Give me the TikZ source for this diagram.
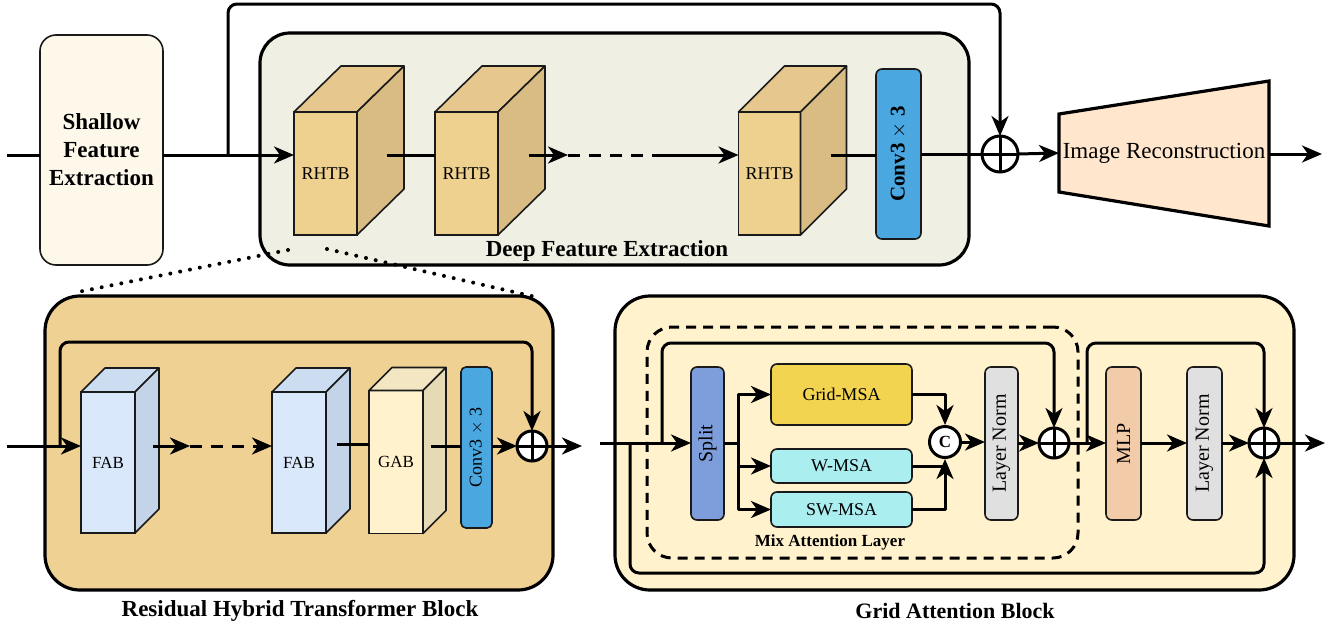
\documentclass[tikz,border=0pt]{standalone}
\usepackage{fontspec}
\setmainfont{Liberation Serif}
\usetikzlibrary{arrows.meta,calc}

% three visible faces of a block: front face is the node #1,
% top and side faces are added with depth (#2,#3)
\newcommand\cubefaces[5]{%
  \draw[cubeedge,fill=#4] (#1.north west) -- ($(#1.north west)+(#2,-#3)$)
        -- ($(#1.north east)+(#2,-#3)$) -- (#1.north east) -- cycle;
  \draw[cubeedge,fill=#5] (#1.north east) -- ($(#1.north east)+(#2,-#3)$)
        -- ($(#1.south east)+(#2,-#3)$) -- (#1.south east) -- cycle;
}

\definecolor{shallowfill}{HTML}{FEF8EA}
\definecolor{deepfill}{HTML}{F0EFE3}
\definecolor{rhtbfront}{HTML}{EFD18F}
\definecolor{rhtbtop}{HTML}{E6C88E}
\definecolor{rhtbside}{HTML}{D8BC84}
\definecolor{convblue}{HTML}{4AA7E0}
\definecolor{recfill}{HTML}{FFE6CC}
\definecolor{rhtbblock}{HTML}{F0D194}
\definecolor{fabfront}{HTML}{DAE8FC}
\definecolor{fabtop}{HTML}{CCDDF2}
\definecolor{fabside}{HTML}{C3D3E8}
\definecolor{gabfront}{HTML}{FFF2CC}
\definecolor{gabtop}{HTML}{F2E6C3}
\definecolor{gabside}{HTML}{E6D9B5}
\definecolor{gridblock}{HTML}{FFF2CC}
\definecolor{splitfill}{HTML}{7E9DDB}
\definecolor{gridmsa}{HTML}{F2D450}
\definecolor{wmsa}{HTML}{AAEEF0}
\definecolor{mlpfill}{HTML}{F2CBA8}
\definecolor{lnfill}{HTML}{E0E0E0}
\definecolor{edge}{HTML}{1A1A1A}

\tikzset{
  conn/.style={line width=3pt, line join=round},
  arr/.style={conn, -{Stealth[length=20pt,width=17pt,inset=6pt]}},
  dashseg/.style={conn, dash pattern=on 12pt off 9pt},
  cubeedge/.style={draw=edge, line width=1.6pt, line join=round},
  cubefront/.style={draw=edge, line width=1.6pt, rectangle, inner sep=0pt,
                    outer sep=0pt},
  flowbox/.style={draw=edge, line width=1.6pt, rectangle, rounded corners=6pt,
                  inner sep=0pt, outer sep=0pt},
  blockbg/.style={draw=black, line width=3.2pt, rectangle, inner sep=0pt,
                  outer sep=0pt},
  oplus/.style={circle, draw=black, fill=white, line width=3pt,
                inner sep=0pt, outer sep=0pt, minimum size=#1,
                path picture={\draw[line width=3pt]
                  (path picture bounding box.north) -- (path picture bounding box.south)
                  (path picture bounding box.west) -- (path picture bounding box.east);}},
  title/.style={font=\fontsize{23}{28}\selectfont\bfseries},
  dotguide/.style={line width=4pt, line cap=round, dash pattern=on 0pt off 10pt},
}

\begin{document}
\begin{tikzpicture}[x=1pt,y=-1pt]
\useasboundingbox (0,0) rectangle (1330,627);
\fill[white] (0,0) rectangle (1330,627);

% ---------------- top row ----------------
\node[blockbg, fill=deepfill, rounded corners=30pt, minimum width=709pt,
      minimum height=232pt] (dfe) at (614.5,149) {};
\node[title] (dfelabel) at (607,251) {Deep Feature Extraction};

\node[flowbox, fill=shallowfill, rounded corners=16pt, minimum width=123pt,
      minimum height=230pt, align=center, title] (sfe) at (101.5,150)
      {Shallow\\Feature\\Extraction};

\node[cubefront, fill=rhtbfront, minimum width=63pt, minimum height=123pt,
      font=\fontsize{18}{20}\selectfont] (r1) at (325.5,173.5) {RHTB};
\cubefaces{r1}{47}{46}{rhtbtop}{rhtbside}
\node[cubefront, fill=rhtbfront, minimum width=63pt, minimum height=123pt,
      font=\fontsize{18}{20}\selectfont] (r2) at (466.5,173.5) {RHTB};
\cubefaces{r2}{47}{46}{rhtbtop}{rhtbside}
\node[cubefront, fill=rhtbfront, minimum width=62pt, minimum height=123pt,
      font=\fontsize{18}{20}\selectfont] (r3) at (769.5,173.5) {RHTB};
\cubefaces{r3}{46}{46}{rhtbtop}{rhtbside}

\node[flowbox, fill=convblue, minimum width=170pt, minimum height=45pt,
      rotate=90, font=\fontsize{21}{24}\selectfont] (conv1) at (898.5,154)
      {\textbf{Conv3} $\times$ \textbf{3}};

\node[oplus=36pt] (plus1) at (1000,154) {};

% reconstruction head: trapezoid built on an empty frame node
\node[minimum width=210pt, minimum height=78pt, inner sep=0pt, outer sep=0pt]
      (rec) at (1164,153) {};
\draw[line width=3.2pt, line join=miter, fill=recfill]
  (rec.north west) -- ($(rec.north east)+(0,-33)$)
  -- ($(rec.south east)+(0,34)$) -- (rec.south west) -- cycle;
\node[font=\fontsize{23}{27}\selectfont] (rectext) at (rec.center) {Image Reconstruction};

\coordinate (in1) at (7,155);
\coordinate (sk1) at (228,155);
\coordinate (r1o) at (387,155);
\coordinate (r2o) at (529,155);
\coordinate (d1) at (568,155);
\coordinate (d2) at (662,155);
\coordinate (r3o) at (831,155);
\coordinate (out1) at (1322,154);

\draw[conn] (in1) -- (in1 -| sfe.west);
\draw[arr] (sfe.east |- in1) -- (in1 -| r1.west);
\draw[arr, rounded corners=9pt] (sk1) -- (228,4) -| (plus1.north);
\draw[conn] (r1o) -- (r1o -| r2.west);
\draw[arr] (r2o) -- (d1);
\draw[dashseg] (d1) -- (d2);
\draw[arr] (d2) -- (d2 -| r3.west);
\draw[conn] (r3o) -- (r3o -| conv1.north);
\draw[conn] (conv1.south |- plus1.west) -- (plus1.west);
\draw[arr] (plus1.east) -- (rec.west);
\draw[arr] (rec.east |- out1) -- (out1);

% dotted zoom guides
\draw[dotguide] (288,250) -- (78,292);
\draw[dotguide] (327,249) -- (540,298);

% ---------------- residual hybrid transformer block ----------------
\node[blockbg, fill=rhtbblock, rounded corners=35pt, minimum width=508pt,
      minimum height=294pt] (rb) at (299,443) {};
\node[title] (rblabel) at (300,611) {Residual Hybrid Transformer Block};

\node[cubefront, fill=fabfront, minimum width=54pt, minimum height=141pt,
      font=\fontsize{17}{20}\selectfont] (fab1) at (108,462.5) {FAB};
\cubefaces{fab1}{24}{24}{fabtop}{fabside}
\node[cubefront, fill=fabfront, minimum width=54pt, minimum height=141pt,
      font=\fontsize{17}{20}\selectfont] (fab2) at (299,462.5) {FAB};
\cubefaces{fab2}{24}{24}{fabtop}{fabside}
\node[cubefront, fill=gabfront, minimum width=54pt, minimum height=143pt,
      font=\fontsize{17}{20}\selectfont] (gab) at (396,462) {GAB};
\cubefaces{gab}{23}{23}{gabtop}{gabside}

\node[flowbox, fill=convblue, rounded corners=5pt, minimum width=161pt,
      minimum height=31pt, rotate=90, font=\fontsize{18}{20}\selectfont]
      (conv2) at (476.5,447.5) {Conv3 $\times$ 3};

\node[oplus=30pt] (plus2) at (532,446) {};

\coordinate (in2) at (7,446);
\coordinate (sk2) at (60,446);
\coordinate (f1o) at (153,446);
\coordinate (d3) at (190,446);
\coordinate (d4) at (253,446);
\coordinate (f2o) at (337,444);
\coordinate (go) at (431,446);
\coordinate (out2) at (582,446);

\draw[arr] (in2) -- (in2 -| fab1.west);
\draw[arr, rounded corners=9pt] (sk2) -- (60,342) -| (plus2.north);
\draw[arr] (f1o) -- (d3);
\draw[dashseg] (d3) -- (d4);
\draw[arr] (d4) -- (d4 -| fab2.west);
\draw[conn] (f2o) -- (f2o -| gab.west);
\draw[conn] (go) -- (go -| conv2.north);
\draw[arr] (conv2.south |- plus2.west) -- (plus2.west);
\draw[arr] (plus2.east) -- (out2);

% ---------------- grid attention block ----------------
\node[blockbg, fill=gridblock, rounded corners=35pt, minimum width=679pt,
      minimum height=294pt] (gb) at (954.5,443) {};
\node[font=\fontsize{22}{26}\selectfont\bfseries] (gblabel) at (955,611)
      {Grid Attention Block};

\node[draw=black, line width=3pt, dash pattern=on 10pt off 7pt,
      rounded corners=25pt, minimum width=431pt, minimum height=231pt,
      inner sep=0pt] (mix) at (862.5,442.5) {};
\node[font=\fontsize{17}{20}\selectfont\bfseries] (mixlabel) at (830,542)
      {Mix Attention Layer};

\node[flowbox, fill=splitfill, minimum width=153pt, minimum height=33pt,
      rotate=90, font=\fontsize{20}{22}\selectfont] (split) at (707.5,443.5) {Split};
\node[flowbox, fill=gridmsa, minimum width=141pt, minimum height=61pt,
      font=\fontsize{18}{20}\selectfont] (grid) at (841.5,394.5) {Grid-MSA};
\node[flowbox, fill=wmsa, minimum width=141pt, minimum height=34pt,
      font=\fontsize{18}{20}\selectfont] (wm) at (841.5,466) {W-MSA};
\node[flowbox, fill=wmsa, minimum width=141pt, minimum height=35pt,
      font=\fontsize{18}{20}\selectfont] (swm) at (841.5,509.5) {SW-MSA};
\node[circle, draw=black, fill=white, line width=3pt, minimum size=31pt,
      inner sep=0pt, font=\fontsize{17}{18}\selectfont\bfseries] (cc) at (945,442) {C};
\node[flowbox, fill=lnfill, minimum width=153pt, minimum height=33pt,
      rotate=90, font=\fontsize{20}{22}\selectfont] (ln1) at (1001.5,443.5) {Layer Norm};
\node[oplus=30pt] (plus3) at (1054,443) {};
\node[flowbox, fill=mlpfill, minimum width=153pt, minimum height=35pt,
      rotate=90, font=\fontsize{20}{22}\selectfont] (mlp) at (1123.5,443.5) {MLP};
\node[flowbox, fill=lnfill, minimum width=153pt, minimum height=35pt,
      rotate=90, font=\fontsize{20}{22}\selectfont] (ln2) at (1204.5,443.5) {Layer Norm};
\node[oplus=30pt] (plus4) at (1264,443) {};

\coordinate (in3) at (600,443);
\coordinate (sk3) at (630,443);
\coordinate (sk4) at (662,443);
\coordinate (sj) at (738,443);
\coordinate (sk5) at (1087,443);
\coordinate (out3) at (1325,443);

% rotated boxes: their north anchor lies on the left, south on the right
\draw[arr] (in3) -- (in3 -| split.north);
\draw[arr, rounded corners=9pt] (sk3) -- (630,573) -| (plus4.south);
\draw[arr, rounded corners=9pt] (sk4) -- (662,343) -| (plus3.north);
\draw[conn] (split.south |- sj) -- (sj);
\draw[arr] (sj) |- (grid.west);
\draw[arr] (sj) |- (wm.west);
\draw[arr] (sj) |- (swm.west);
\draw[arr] (grid.east) -| (cc.north);
\draw[conn] (wm.east) -- (wm.east -| cc.south);
\draw[arr] (swm.east) -| (cc.south);
\draw[arr] (cc.east) -- (cc.east -| ln1.north);
\draw[arr] (ln1.south |- plus3.west) -- (plus3.west);
\draw[arr] (plus3.east) -- (plus3.east -| mlp.north);
\draw[arr, rounded corners=9pt] (sk5) -- (1087,343) -| (plus4.north);
\draw[arr] (mlp.south |- plus4.west) -- (ln2.north |- plus4.west);
\draw[arr] (ln2.south |- plus4.west) -- (plus4.west);
\draw[arr] (plus4.east) -- (out3);
\end{tikzpicture}
\end{document}
